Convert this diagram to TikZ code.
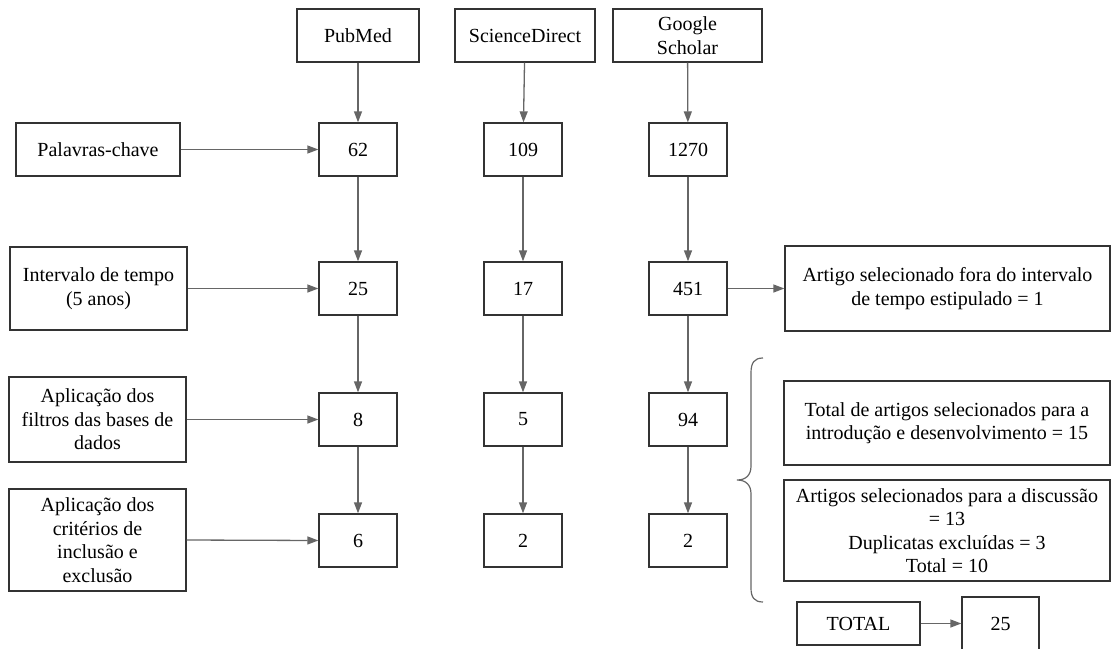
\documentclass[tikz,border=0pt]{standalone}
\usepackage{fontspec}
\setmainfont{Liberation Serif}
\usetikzlibrary{arrows.meta}
\definecolor{boxc}{HTML}{333333}
\definecolor{arrc}{HTML}{666666}
\tikzset{
  bx/.style={draw=boxc, line width=1.3pt, inner sep=0pt, align=center,
    font=\fontsize{20}{23.5}\selectfont, fill=white},
  arr/.style={draw=arrc, line width=1.3pt, -{Triangle[length=11pt,width=8pt]}},
  brc/.style={draw=arrc, line width=1.2pt}
}
\begin{document}
\begin{tikzpicture}[x=1pt,y=-1pt]
\useasboundingbox (0,0) rectangle (1111,648);
% sources
\node[bx, minimum width=122pt, minimum height=53pt] (pub) at (358,35.5) {PubMed};
\node[bx, minimum width=140pt, minimum height=53pt] (sd) at (525,35.5) {ScienceDirect};
\node[bx, minimum width=149pt, minimum height=53pt] (gs) at (687.5,35.5) {Google\\Scholar};
% row 1
\node[bx, minimum width=164pt, minimum height=53pt] (pal) at (98,149.5) {Palavras-chave};
\node[bx, minimum width=78pt, minimum height=53pt] (a1) at (358,149.5) {62};
\node[bx, minimum width=78pt, minimum height=53pt] (b1) at (523,149.5) {109};
\node[bx, minimum width=78pt, minimum height=53pt] (c1) at (688,149.5) {1270};
% row 2
\node[bx, minimum width=177pt, minimum height=83pt] (int) at (98.5,288.5) {Intervalo de tempo\\(5 anos)};
\node[bx, minimum width=78pt, minimum height=53pt] (a2) at (358,288.5) {25};
\node[bx, minimum width=78pt, minimum height=53pt] (b2) at (523,288.5) {17};
\node[bx, minimum width=78pt, minimum height=53pt] (c2) at (688,288.5) {451};
\node[bx, minimum width=325pt, minimum height=85pt] (fora) at (947.5,288.5) {Artigo selecionado fora do intervalo\\de tempo estipulado = 1};
% row 3
\node[bx, minimum width=177pt, minimum height=85pt] (filt) at (97.5,419.5) {Aplicação dos\\filtros das bases de\\dados};
\node[bx, minimum width=78pt, minimum height=53pt] (a3) at (358,419.5) {8};
\node[bx, minimum width=78pt, minimum height=53pt] (b3) at (523,419.5) {5};
\node[bx, minimum width=78pt, minimum height=53pt] (c3) at (688,419.5) {94};
% row 4
\node[bx, minimum width=177pt, minimum height=102pt] (crit) at (97.5,540) {Aplicação dos\\critérios de\\inclusão e\\exclusão};
\node[bx, minimum width=78pt, minimum height=53pt] (a4) at (358,540.5) {6};
\node[bx, minimum width=78pt, minimum height=53pt] (b4) at (523,540.5) {2};
\node[bx, minimum width=78pt, minimum height=53pt] (c4) at (688,540.5) {2};
% right side
\node[bx, minimum width=326pt, minimum height=84pt] (intro) at (947,423) {Total de artigos selecionados para a\\introdução e desenvolvimento = 15};
\node[bx, minimum width=326pt, minimum height=101pt] (disc) at (947,530.5) {Artigos selecionados para a discussão\\= 13\\Duplicatas excluídas = 3\\Total = 10};
\node[bx, minimum width=123pt, minimum height=43pt] (tot) at (858.5,623.5) {TOTAL};
\node[bx, minimum width=77pt, minimum height=53pt] (res) at (1000.5,623.5) {25};
% arrows
\draw[arr] (pub) -- (a1);
\draw[arr] (sd) -- (b1);
\draw[arr] (gs) -- (c1);
\draw[arr] (a1) -- (a2);
\draw[arr] (a2) -- (a3);
\draw[arr] (a3) -- (a4);
\draw[arr] (b1) -- (b2);
\draw[arr] (b2) -- (b3);
\draw[arr] (b3) -- (b4);
\draw[arr] (c1) -- (c2);
\draw[arr] (c2) -- (c3);
\draw[arr] (c3) -- (c4);
\draw[arr] (pal) -- (a1);
\draw[arr] (int) -- (a2);
\draw[arr] (filt) -- (a3);
\draw[arr] (crit.east) -- (a4.west);
\draw[arr] (c2) -- (fora);
\draw[arr] (tot) -- (res);
% brace
\draw[brc] (763,358) .. controls (754,358) and (751,363) .. (751,373) -- (751,466)
  .. controls (751,475) and (746,480) .. (737,480)
  .. controls (746,480) and (751,485) .. (751,494) -- (751,588)
  .. controls (751,597) and (754,602) .. (763,602);
\end{tikzpicture}
\end{document}
